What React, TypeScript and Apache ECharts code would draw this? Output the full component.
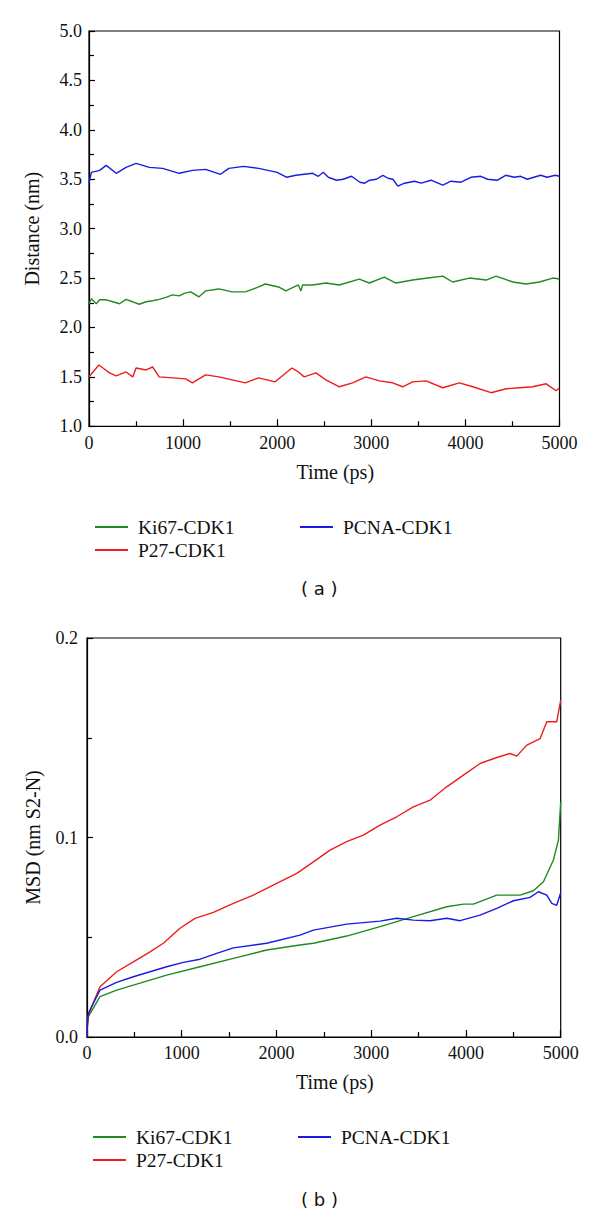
import React, { useEffect, useRef } from "react";
import * as echarts from "echarts";

// ---------- Data ----------
const seriesNames = ["Ki67-CDK1", "P27-CDK1", "PCNA-CDK1"];
const seriesColors = ["#1f8a1f", "#ee1c1c", "#1a1ae0"];

const xTicksTime = [0, 1000, 2000, 3000, 4000, 5000];

// (a) Distance (nm) vs Time (ps)
const ki67Distance: [number, number][] = [
  [0, 2.24], [25, 2.29], [77, 2.24], [113, 2.28], [183, 2.28], [254, 2.26], [324, 2.24],
  [394, 2.285], [465, 2.26], [535, 2.235], [606, 2.26], [676, 2.27], [747, 2.285],
  [817, 2.305], [887, 2.33], [958, 2.32], [1011, 2.345], [1081, 2.36], [1169, 2.31],
  [1239, 2.37], [1380, 2.39], [1521, 2.36], [1662, 2.36], [1803, 2.41], [1873, 2.44],
  [2014, 2.41], [2092, 2.37], [2225, 2.43], [2252, 2.37], [2270, 2.43], [2376, 2.43],
  [2518, 2.45], [2660, 2.43], [2872, 2.49], [2979, 2.45], [3138, 2.51], [3262, 2.45],
  [3440, 2.48], [3600, 2.5], [3759, 2.52], [3865, 2.46], [4043, 2.5], [4220, 2.48],
  [4326, 2.52], [4503, 2.46], [4645, 2.44], [4787, 2.46], [4929, 2.5], [5000, 2.49],
];
const p27Distance: [number, number][] = [
  [0, 1.5], [42, 1.55], [106, 1.62], [148, 1.59], [218, 1.54], [289, 1.51], [394, 1.55],
  [465, 1.5], [500, 1.59], [606, 1.57], [676, 1.6], [746, 1.5], [887, 1.49], [1028, 1.48],
  [1099, 1.44], [1239, 1.52], [1380, 1.5], [1521, 1.47], [1662, 1.44], [1803, 1.49],
  [1979, 1.45], [2155, 1.59], [2225, 1.55], [2287, 1.5], [2411, 1.54], [2518, 1.47],
  [2660, 1.4], [2801, 1.44], [2943, 1.5], [3085, 1.46], [3227, 1.44], [3333, 1.4],
  [3440, 1.45], [3582, 1.46], [3759, 1.39], [3936, 1.44], [4078, 1.4], [4273, 1.34],
  [4433, 1.38], [4574, 1.39], [4716, 1.4], [4858, 1.43], [4964, 1.36], [5000, 1.39],
];
const pcnaDistance: [number, number][] = [
  [0, 3.46], [25, 3.57], [113, 3.59], [183, 3.64], [289, 3.56], [394, 3.62], [500, 3.66],
  [641, 3.62], [782, 3.61], [958, 3.56], [1099, 3.59], [1239, 3.6], [1398, 3.55], [1486, 3.61],
  [1644, 3.63], [1803, 3.61], [2000, 3.57], [2102, 3.52], [2199, 3.54], [2376, 3.56],
  [2437, 3.53], [2490, 3.57], [2543, 3.52], [2630, 3.49], [2700, 3.5], [2790, 3.53],
  [2878, 3.47], [2930, 3.46], [2983, 3.49], [3054, 3.5], [3124, 3.54], [3177, 3.51],
  [3230, 3.5], [3282, 3.43], [3353, 3.46], [3459, 3.48], [3530, 3.46], [3635, 3.49],
  [3759, 3.44], [3847, 3.48], [3953, 3.47], [4058, 3.52], [4164, 3.53], [4235, 3.5],
  [4340, 3.49], [4428, 3.54], [4517, 3.52], [4587, 3.53], [4658, 3.5], [4728, 3.52],
  [4799, 3.54], [4869, 3.52], [4954, 3.54], [5000, 3.53],
];

// (b) MSD vs Time (ps)
const ki67Msd: [number, number][] = [
  [0, 0], [5, 0.006], [14, 0.0102], [137, 0.0202], [313, 0.0235], [489, 0.026], [841, 0.031],
  [1193, 0.0352], [1545, 0.0394], [1897, 0.0436], [2248, 0.0461], [2390, 0.047],
  [2741, 0.0506], [3093, 0.0553], [3445, 0.0603], [3797, 0.0653], [3973, 0.0666],
  [4079, 0.0666], [4325, 0.0711], [4571, 0.0711], [4712, 0.0733], [4818, 0.0778],
  [4923, 0.0887], [4976, 0.0987], [5000, 0.1179],
];
const p27Msd: [number, number][] = [
  [0, 0], [5, 0.007], [15, 0.0105], [35, 0.0135], [137, 0.0252], [313, 0.0327], [489, 0.0377],
  [665, 0.0427], [806, 0.047], [982, 0.0545], [1140, 0.0595], [1334, 0.0625], [1545, 0.067],
  [1756, 0.0711], [2002, 0.077], [2214, 0.082], [2390, 0.0878], [2565, 0.0937], [2741, 0.0979],
  [2917, 0.1012], [3093, 0.1062], [3269, 0.1104], [3445, 0.1154], [3621, 0.1187],
  [3797, 0.1254], [3973, 0.1313], [4149, 0.1371], [4325, 0.1401], [4466, 0.1421],
  [4536, 0.1408], [4642, 0.1463], [4783, 0.1496], [4853, 0.158], [4958, 0.158], [5000, 0.1688],
];
const pcnaMsd: [number, number][] = [
  [0, 0], [5, 0.007], [14, 0.0119], [137, 0.0235], [313, 0.0274], [489, 0.0302], [841, 0.0352],
  [1017, 0.0374], [1193, 0.039], [1369, 0.0419], [1545, 0.0447], [1897, 0.047], [2248, 0.0511],
  [2390, 0.0536], [2741, 0.0566], [3093, 0.0581], [3269, 0.0595], [3445, 0.0586],
  [3621, 0.0583], [3797, 0.0595], [3938, 0.0583], [4149, 0.0611], [4325, 0.0645],
  [4501, 0.0683], [4677, 0.07], [4765, 0.0728], [4853, 0.0711], [4906, 0.067], [4958, 0.066],
  [5000, 0.0723],
];

const SERIF = "Liberation Serif";

export default function App() {
  const ref = useRef<HTMLDivElement>(null);

  useEffect(() => {
    if (!ref.current) return;
    const chart = echarts.init(ref.current, undefined, { renderer: "svg" });

    const xAxisBase = (gridIndex: number, nameGap: number, labelMargin: number) => ({
      type: "value" as const,
      gridIndex,
      min: xTicksTime[0],
      max: xTicksTime[xTicksTime.length - 1],
      interval: 1000,
      name: "Time (ps)",
      nameLocation: "middle" as const,
      nameGap,
      nameTextStyle: { fontFamily: SERIF, fontSize: 20, color: "#111", padding: [0, 0, 0, 22] },
      axisLine: { show: true, lineStyle: { color: "#000", width: 1.2 } },
      axisTick: { show: true, inside: true, length: 7, lineStyle: { color: "#000", width: 1.2 } },
      minorTick: { show: true, splitNumber: 2, length: 5, lineStyle: { color: "#000", width: 1.2 } },
      splitLine: { show: false },
      axisLabel: {
        fontFamily: SERIF, fontSize: 18, color: "#111", margin: labelMargin,
        formatter: (v: number) => String(v),
      },
    });

    const lineSeries = (name: string, color: string, data: [number, number][], idx: number) => ({
      type: "line" as const,
      name,
      xAxisIndex: idx,
      yAxisIndex: idx,
      data,
      showSymbol: false,
      symbol: "none",
      lineStyle: { color, width: 1.4 },
      itemStyle: { color },
      silent: true,
    });

    const legendBase = (left: number, top: number, names: string[]) => ({
      left,
      top,
      orient: "vertical" as const,
      data: names,
      icon: "rect",
      itemWidth: 33,
      itemHeight: 1.8,
      itemGap: 3,
      selectedMode: false,
      textStyle: { fontFamily: SERIF, fontSize: 19.5, color: "#111", padding: [0, 0, 0, 5], lineHeight: 20 },
    });

    const option: any = {
      animation: false,
      backgroundColor: "#fff",
      grid: [
        { left: 89, top: 31, width: 470.5, height: 395.3, show: true, borderColor: "#000", borderWidth: 1.2, backgroundColor: "transparent" },
        { left: 87, top: 638, width: 473.7, height: 399, show: true, borderColor: "#000", borderWidth: 1.2, backgroundColor: "transparent" },
      ],
      xAxis: [xAxisBase(0, 36, 8), xAxisBase(1, 35, 7)],
      yAxis: [
        {
          type: "value",
          gridIndex: 0,
          min: 1,
          max: 5,
          interval: 0.5,
          name: "Distance (nm)",
          nameLocation: "middle",
          nameGap: 47,
          nameTextStyle: { fontFamily: SERIF, fontSize: 20, color: "#111" },
          axisLine: { show: true, lineStyle: { color: "#000", width: 1.2 } },
          axisTick: { show: true, inside: true, length: 6, lineStyle: { color: "#000", width: 1.2 } },
          minorTick: { show: true, splitNumber: 2, length: 5, lineStyle: { color: "#000", width: 1.2 } },
          splitLine: { show: false },
          axisLabel: { fontFamily: SERIF, fontSize: 18, color: "#111", margin: 7, formatter: (v: number) => v.toFixed(1) },
        },
        {
          type: "value",
          gridIndex: 1,
          min: 0,
          max: 0.2,
          interval: 0.1,
          name: "MSD (nm S2-N)",
          nameLocation: "middle",
          nameGap: 44,
          nameTextStyle: { fontFamily: SERIF, fontSize: 20, color: "#111" },
          axisLine: { show: true, lineStyle: { color: "#000", width: 1.2 } },
          axisTick: { show: true, inside: true, length: 6, lineStyle: { color: "#000", width: 1.2 } },
          minorTick: { show: true, splitNumber: 2, length: 5, lineStyle: { color: "#000", width: 1.2 } },
          splitLine: { show: false },
          axisLabel: { fontFamily: SERIF, fontSize: 18, color: "#111", margin: 9, formatter: (v: number) => v.toFixed(1) },
        },
      ],
      legend: [
        legendBase(90, 512, [seriesNames[0], seriesNames[1]]),
        legendBase(295, 512, [seriesNames[2]]),
        legendBase(88, 1122, [seriesNames[0], seriesNames[1]]),
        legendBase(293, 1122, [seriesNames[2]]),
      ],
      graphic: [
        { type: "text", left: 301, top: 579, style: { text: "( a )", font: "18px 'DejaVu Sans', sans-serif", fill: "#111" } },
        { type: "text", left: 301, top: 1190, style: { text: "( b )", font: "18px 'DejaVu Sans', sans-serif", fill: "#111" } },
      ],
      series: [
        lineSeries(seriesNames[0], seriesColors[0], ki67Distance, 0),
        lineSeries(seriesNames[1], seriesColors[1], p27Distance, 0),
        lineSeries(seriesNames[2], seriesColors[2], pcnaDistance, 0),
        lineSeries(seriesNames[0], seriesColors[0], ki67Msd, 1),
        lineSeries(seriesNames[1], seriesColors[1], p27Msd, 1),
        lineSeries(seriesNames[2], seriesColors[2], pcnaMsd, 1),
      ],
    };

    chart.setOption(option);
    return () => chart.dispose();
  }, []);

  return (
    <div
      ref={ref}
      style={{ position: "absolute", left: 0, top: 0, width: 600, height: 1218, background: "#fff" }}
    />
  );
}
